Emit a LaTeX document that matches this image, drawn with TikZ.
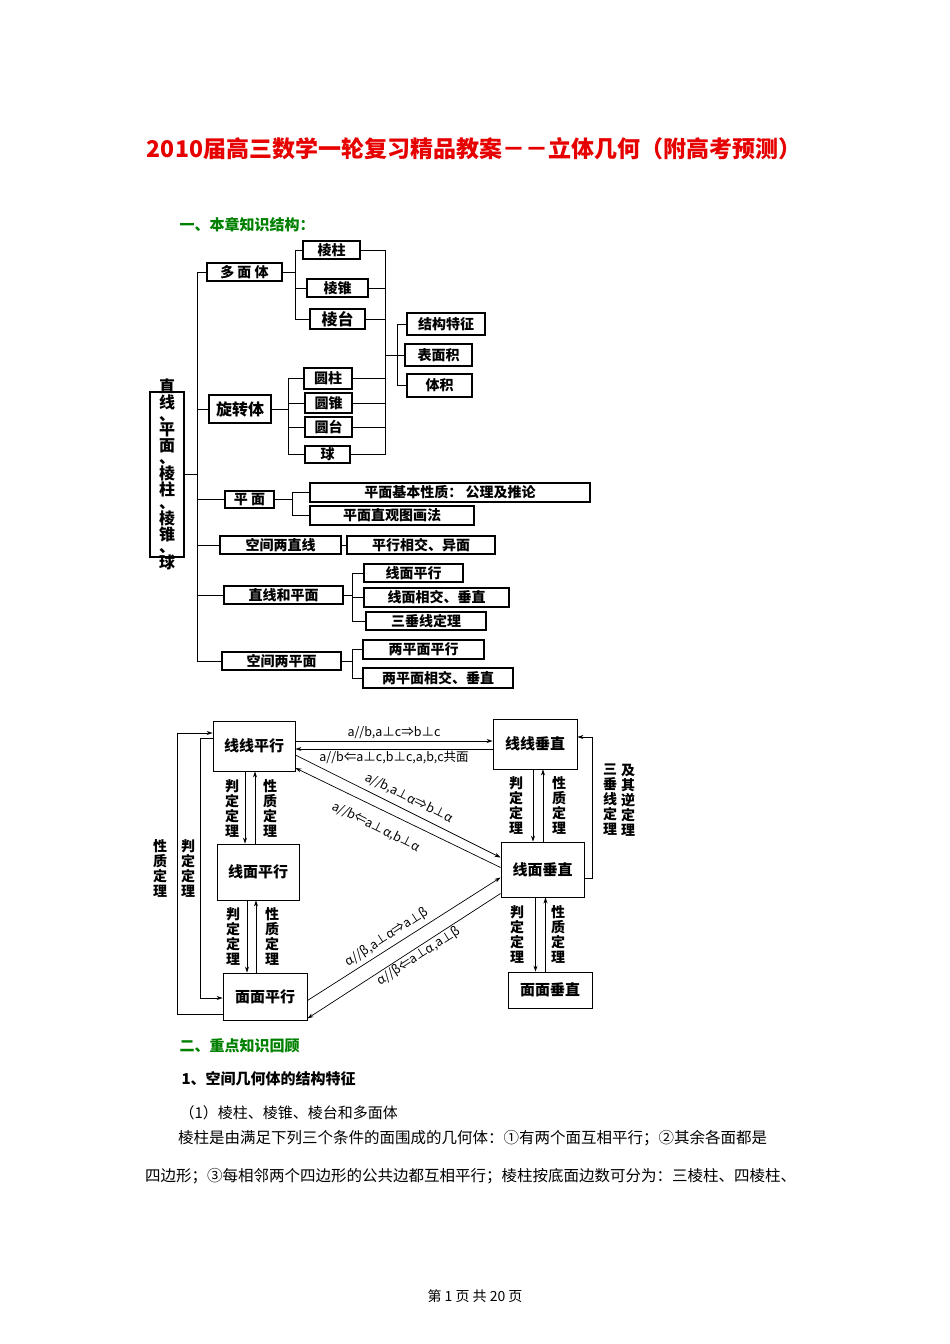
\documentclass[tikz,border=0pt]{standalone}
\usepackage{fontspec}
\setmainfont{Noto Sans CJK SC}
\newfontfamily\cjk{Noto Sans CJK SC}
\usetikzlibrary{arrows.meta,calc}
\definecolor{ttred}{RGB}{230,0,0}
\definecolor{hdgreen}{RGB}{0,128,0}
\tikzset{
 box/.style={draw,line width=1.1pt,inner sep=0pt,font=\fontsize{14}{14}\selectfont\bfseries},
 bbox/.style={draw,line width=0.9pt,inner sep=0pt,font=\fontsize{15}{15}\selectfont\bfseries},
 ln/.style={line width=0.9pt},
 arr/.style={line width=0.7pt,-{Stealth[length=6pt,width=4pt]}},
 vt/.style={align=center,font=\fontsize{14}{15}\selectfont\bfseries,inner sep=0pt},
 lab/.style={font=\fontsize{12.5}{12.5}\selectfont,inner sep=1pt}
}
\newcommand\bx[7][box]{\node[#1,minimum width=#5pt-#3pt,minimum height=#6pt-#4pt] (#2) at ({(#3+#5)/2},{(#4+#6)/2}) {#7};}
\begin{document}
\begin{tikzpicture}[x=1pt,y=-1pt]
\useasboundingbox (0,0) rectangle (950,1344);
\node[font=\fontsize{23}{23}\selectfont\bfseries,text=ttred] (title) at (474,149) {2010届高三数学一轮复习精品教案－－立体几何（附高考预测）};
\node[anchor=west,font=\fontsize{15}{15}\selectfont\bfseries,text=hdgreen] (h1) at (176,225) {一、本章知识结构：};
% tree
\bx{root}{150}{392}{184}{557}{}
\node[vt,font=\fontsize{16}{12.4}\selectfont\bfseries] (roottxt) at (root.center) {直\\线\\、\\平\\面\\、\\棱\\柱\\、\\棱\\锥\\、\\球};
\bx{dm}{207}{263}{282}{281}{多 面 体}
\bx{lz}{303}{241}{360}{259}{棱柱}
\bx{lzh}{307}{279}{368}{297}{棱锥}
\bx{lt}{310}{309}{365}{329}{\fontsize{16}{16}\selectfont 棱台}
\bx{jg}{407}{313}{485}{335}{结构特征}
\bx{bm}{405}{344}{472}{366}{表面积}
\bx{tj}{407}{374}{472}{397}{体积}
\bx{xz}{209}{395}{271}{423}{\fontsize{16}{16}\selectfont 旋转体}
\bx{yz}{304}{368}{352}{389}{圆柱}
\bx{yzh}{305}{393}{352}{413}{圆锥}
\bx{yt}{305}{417}{352}{437}{圆台}
\bx{qiu}{305}{446}{350}{463}{球}
\bx{pm}{225}{491}{274}{508}{平 面}
\bx{pmj}{310}{483}{590}{502}{平面基本性质： 公理及推论}
\bx{pmz}{310}{506}{474}{525}{平面直观图画法}
\bx{kl}{220}{536}{341}{554}{空间两直线}
\bx{px}{347}{536}{495}{554}{平行相交、异面}
\bx{zp}{224}{586}{343}{604}{直线和平面}
\bx{xmp}{364}{564}{463}{582}{线面平行}
\bx{xmx}{364}{588}{509}{607}{线面相交、垂直}
\bx{sc}{366}{612}{486}{630}{三垂线定理}
\bx{kp}{222}{652}{341}{670}{空间两平面}
\bx{lpp}{363}{640}{484}{659}{两平面平行}
\bx{lpx}{363}{668}{513}{688}{两平面相交、垂直}
\coordinate (t) at (197,0);
\coordinate (v1) at (295,0);
\coordinate (v2) at (385,0);
\coordinate (v3) at (397,0);
\coordinate (v4) at (288,0);
\coordinate (v5) at (292,0);
\coordinate (v6) at (352,0);
\draw[ln] (dm.west -| t) -- (kp.west -| t);
\draw[ln] (root.east) -- (root.east -| t);
\foreach \n in {dm,xz,pm,kl,zp,kp} \draw[ln] (\n.west -| t) -- (\n.west);
\draw[ln] (dm.east) -- (dm.east -| v1);
\draw[ln] (lz.west -| v1) -- (lt.west -| v1);
\foreach \n in {lz,lzh,lt} \draw[ln] (\n.west -| v1) -- (\n.west);
\draw[ln] (lz.east -| v2) -- (qiu.east -| v2);
\foreach \n in {lz,lzh,lt,yz,yzh,yt,qiu} \draw[ln] (\n.east) -- (\n.east -| v2);
\draw[ln] (bm.west -| v2) -- (bm.west -| v3);
\draw[ln] (jg.west -| v3) -- (tj.west -| v3);
\foreach \n in {jg,bm,tj} \draw[ln] (\n.west -| v3) -- (\n.west);
\draw[ln] (xz.east) -- (xz.east -| v4);
\draw[ln] (yz.west -| v4) -- (qiu.west -| v4);
\foreach \n in {yz,yzh,yt,qiu} \draw[ln] (\n.west -| v4) -- (\n.west);
\draw[ln] (pm.east) -- (pm.east -| v5);
\draw[ln] (pmj.west -| v5) -- (pmz.west -| v5);
\foreach \n in {pmj,pmz} \draw[ln] (\n.west -| v5) -- (\n.west);
\draw[ln] (kl.east) -- (px.west);
\draw[ln] (zp.east) -- (zp.east -| v6);
\draw[ln] (xmp.west -| v6) -- (sc.west -| v6);
\foreach \n in {xmp,xmx,sc} \draw[ln] (\n.west -| v6) -- (\n.west);
\draw[ln] (kp.east) -- (kp.east -| v6);
\draw[ln] (lpp.west -| v6) -- (lpx.west -| v6);
\foreach \n in {lpp,lpx} \draw[ln] (\n.west -| v6) -- (\n.west);
% bottom diagram
\bx[bbox]{LLP}{213}{721}{295}{771}{线线平行}
\bx[bbox]{LLC}{493}{719}{577}{769}{线线垂直}
\bx[bbox]{LMP}{217}{844}{299}{900}{线面平行}
\bx[bbox]{LMC}{501}{842}{584}{897}{线面垂直}
\bx[bbox]{MMP}{223}{973}{307}{1020}{面面平行}
\bx[bbox]{MMC}{508}{972}{592}{1008}{面面垂直}
\draw[arr] ([yshift=5pt]LLP.east) -- ([yshift=5pt]LLP.east -| LLC.west) node[lab,midway,above=1pt] {a//b,a⊥c⇒b⊥c};
\draw[arr] ([yshift=-3pt]LLP.east -| LLC.west) -- ([yshift=-3pt]LLP.east) node[lab,midway,below=1pt] {a//b⇐a⊥c,b⊥c,a,b,c共面};
\draw[arr] ([yshift=-9pt]LLP.east) -- ([yshift=12pt]LMC.west);
\draw[arr] ([yshift=2pt]LMC.west) -- ([yshift=-22pt]LLP.east);
\draw[arr] ([yshift=-4pt]MMP.east) -- ([yshift=-8pt]LMC.west);
\draw[arr] ([yshift=-24pt]LMC.west) -- ([yshift=2pt]MMP.south east);
\node[lab,rotate=-26.5] (da) at (409,798) {a//b,a⊥α⇒b⊥α};
\node[lab,rotate=-26.5] (db) at (376,827) {a//b⇐a⊥α,b⊥α};
\node[lab,rotate=33] (dc) at (387,937) {α//β,a⊥α⇒a⊥β};
\node[lab,rotate=33] (dd) at (419,956) {α//β⇐a⊥α,a⊥β};
% vertical pairs
\draw[arr] ([xshift=-9pt]LLP.south) -- ([xshift=-9pt]LLP.south |- LMP.north);
\draw[arr] ([xshift=1pt]LLP.south |- LMP.north) -- ([xshift=1pt]LLP.south);
\node[vt] (l1) at (232,808) {判\\定\\定\\理};
\node[vt] (l2) at (270,808) {性\\质\\定\\理};
\draw[arr] ([xshift=-11pt]LMP.south) -- ([xshift=-11pt]LMP.south |- MMP.north);
\draw[arr] ([xshift=-2pt]LMP.south |- MMP.north) -- ([xshift=-2pt]LMP.south);
\node[vt] (l3) at (233,936) {判\\定\\定\\理};
\node[vt] (l4) at (272,936) {性\\质\\定\\理};
\draw[arr] ([xshift=-2pt]LLC.south) -- ([xshift=-2pt]LLC.south |- LMC.north);
\draw[arr] ([xshift=8pt]LLC.south |- LMC.north) -- ([xshift=8pt]LLC.south);
\node[vt] (l5) at (516,805) {判\\定\\定\\理};
\node[vt] (l6) at (559,805) {性\\质\\定\\理};
\draw[arr] ([xshift=-7pt]LMC.south) -- ([xshift=-7pt]LMC.south |- MMC.north);
\draw[arr] ([xshift=3pt]LMC.south |- MMC.north) -- ([xshift=3pt]LMC.south);
\node[vt] (l7) at (517,934) {判\\定\\定\\理};
\node[vt] (l8) at (558,934) {性\\质\\定\\理};
% loops
\coordinate (o1) at (177,0);
\coordinate (o2) at (200,0);
\coordinate (o3) at (592,0);
\draw[arr] ([yshift=-18pt]MMP.west) -| (o1 |- 0,733) -- (LLP.west |- 0,733);
\draw[arr] ([yshift=8pt]LLP.west) -| (o2 |- 0,998) -- (MMP.west |- 0,998);
\draw[arr] ([yshift=-9pt]LMC.east) -| (o3 |- 0,737) -- (LLC.east |- 0,737);
\node[vt] (l9) at (160,868) {性\\质\\定\\理};
\node[vt] (l10) at (188,868) {判\\定\\定\\理};
\node[vt] (l11) at (610,800) {三\\垂\\线\\定\\理};
\node[vt] (l12) at (628,800) {及\\其\\逆\\定\\理};
% text below
\node[anchor=west,font=\fontsize{15}{15}\selectfont\bfseries,text=hdgreen] (h2) at (176,1046) {二、重点知识回顾};
\node[anchor=west,font=\fontsize{15}{15}\selectfont\bfseries] (h3) at (178,1079) {1、空间几何体的结构特征};
\node[anchor=west,font=\fontsize{15}{15}\selectfont] (p1) at (176,1113) {（1）棱柱、棱锥、棱台和多面体};
\node[anchor=west,font=\fontsize{15.5}{15.5}\selectfont,inner sep=0pt] (p2) at (178,1138) {棱柱是由满足下列三个条件的面围成的几何体：①有两个面互相平行；②其余各面都是};
\node[anchor=west,font=\fontsize{15.5}{15.5}\selectfont,inner sep=0pt] (p3) at (145,1176) {四边形；③每相邻两个四边形的公共边都互相平行；棱柱按底面边数可分为：三棱柱、四棱柱、};
\node[font=\fontsize{14}{14}\selectfont] (ft) at (475,1296) {第\ 1\ 页\ 共\ 20\ 页};
\end{tikzpicture}
\end{document}
